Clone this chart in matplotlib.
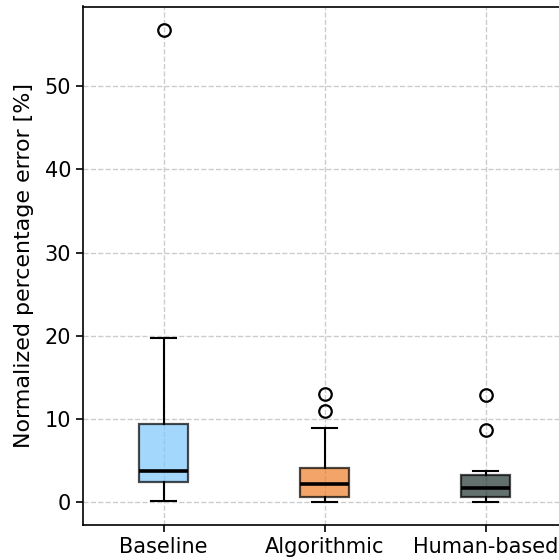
import matplotlib
matplotlib.use("Agg")
import matplotlib.pyplot as plt

categories = ["Baseline", "Algorithmic", "Human-based"]
whislo = [0.1, 0.0, 0.05]
q1 = [2.4, 0.65, 0.57]
med = [3.7, 2.13, 1.65]
q3 = [9.4, 4.06, 3.25]
whishi = [19.7, 8.9, 3.77]
fliers = [[56.8], [13.0, 10.9], [12.9, 8.7]]
colors = ["#7ec6fc", "#ef7e2a", "#1f3330"]

fig = plt.figure(figsize=(5.59, 5.60), dpi=100)
W, H = 559.0, 560.0
left_px, right_px, top_px, bot_px = 83.0, 566.0, 6.5, 525.0
ax = fig.add_axes([left_px / W, (H - bot_px) / H, (right_px - left_px) / W, (bot_px - top_px) / H])

stats = []
for i, c in enumerate(categories):
    stats.append(dict(label=c, whislo=whislo[i], q1=q1[i], med=med[i], q3=q3[i],
                      whishi=whishi[i], fliers=fliers[i]))

positions = [1, 2, 3]
bp = ax.bxp(stats, positions=positions, widths=0.3, patch_artist=True,
            boxprops=dict(edgecolor="black", linewidth=1.6),
            medianprops=dict(color="black", linewidth=2.6),
            whiskerprops=dict(color="black", linewidth=1.5),
            capprops=dict(color="black", linewidth=1.5),
            flierprops=dict(marker="o", markerfacecolor="none", markeredgecolor="black",
                            markersize=9, markeredgewidth=1.6))
for patch, col in zip(bp["boxes"], colors):
    patch.set_facecolor(col)
    patch.set_alpha(0.7)
    patch.set_zorder(2)

ax.grid(True, linestyle="--", color="#cccccc", linewidth=1.0, zorder=0)
ax.set_axisbelow(True)

ax.set_xlim(0.5, 3.5)
ax.set_ylim(-2.77, 59.6)
ax.set_xticks(positions)
ax.set_xticklabels(categories)
ax.set_yticks([0, 10, 20, 30, 40, 50])
ax.tick_params(labelsize=15, length=5, width=1.2)
ax.set_ylabel("Normalized percentage error [%]", fontsize=15.9, labelpad=8)
for s in ax.spines.values():
    s.set_linewidth(1.2)

fig.savefig("out.png", dpi=100)
